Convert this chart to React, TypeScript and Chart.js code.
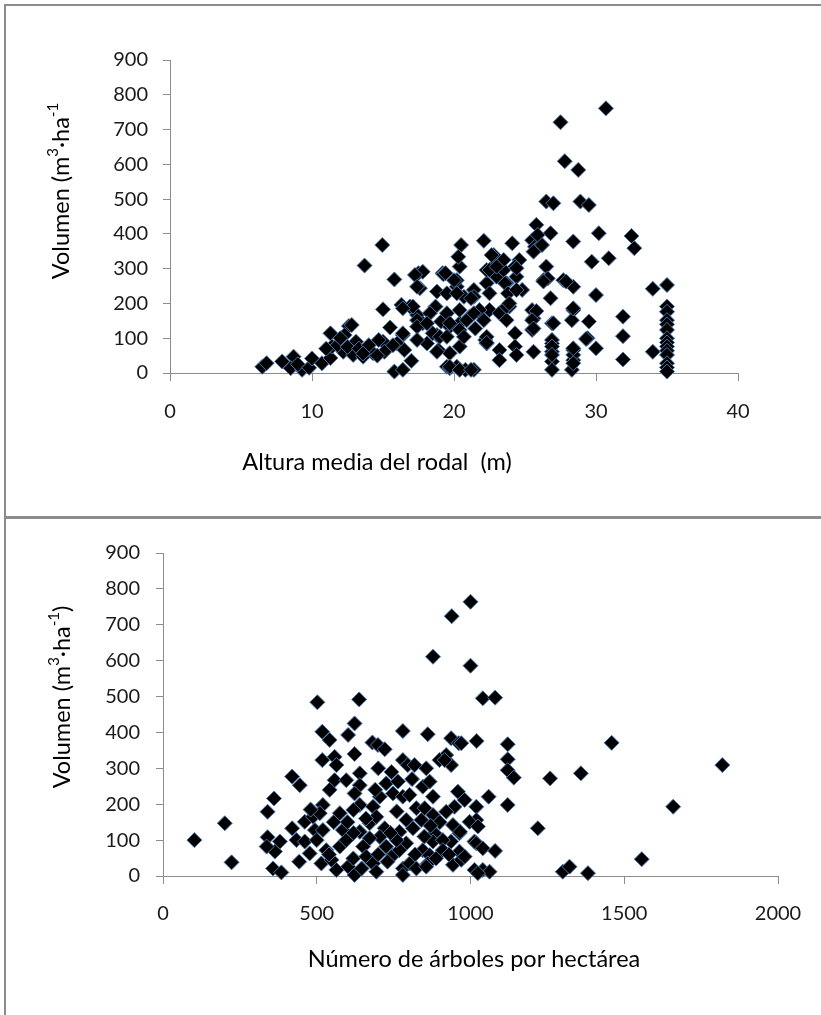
import React, { useEffect, useRef } from "react";
import { Chart, registerables } from "chart.js";

Chart.register(...registerables);

// ---- Data: top chart (Altura media del rodal vs Volumen) ----
const alturaX = [
  6.5, 6.8, 7.9, 8.7, 8.5, 9.3, 9.0, 9.8, 10.0, 10.7, 11.3, 11.3, 12.6, 12.3, 11.4, 12.2, 13.1, 12.9, 13.6, 14.3,
  15.0, 15.1, 13.7, 14.95, 15.8, 15.0, 15.5, 15.8, 16.4, 17.0, 16.3, 16.9, 17.4, 17.8, 17.5, 17.8, 17.6, 16.4, 16.0, 18.8,
  19.2, 18.7, 19.1, 18.8, 18.9, 19.5, 11.0, 11.8, 12.0, 12.5, 13.3, 14.0, 14.6, 12.8, 13.6, 14.7, 16.4, 15.7, 16.5, 17.25,
  17.4, 17.1, 16.4, 17.4, 18.3, 19.5, 20.2, 20.7, 21.4, 22.3, 23.0, 23.7, 24.4, 24.8, 22.3, 23.0, 23.5, 17.4, 18.1, 18.5,
  19.0, 19.7, 20.4, 21.1, 21.8, 22.5, 23.2, 23.9, 23.7, 20.4, 19.7, 18.8, 18.1, 17.4, 20.2, 19.7, 20.8, 21.4, 22.2, 22.3,
  23.2, 23.2, 24.3, 24.3, 25.6, 25.5, 25.6, 25.5, 26.9, 26.9, 26.9, 26.9, 26.9, 28.4, 28.3, 28.4, 28.4, 28.3, 29.5, 29.4,
  30.0, 19.25, 20.2, 20.4, 20.5, 20.3, 22.1, 22.8, 24.1, 23.5, 24.6, 24.3, 25.8, 26.8, 26.5, 27.0, 28.9, 29.5, 28.4, 30.2,
  29.7, 30.9, 30.0, 26.5, 26.3, 27.7, 28.4, 26.8, 25.5, 25.7, 26.1, 30.7, 27.5, 27.8, 28.75, 32.5, 32.7, 34.0, 35.0, 25.8,
  25.5, 25.6, 31.9, 35.0, 35.0, 35.0, 35.0, 35.0, 35.0, 35.0, 35.0, 35.0, 35.0, 35.0, 35.0, 35.0, 34.0, 31.9, 31.9, 29.3,
  28.4, 28.4, 26.9, 26.9, 26.9, 24.4, 22.3, 22.3, 19.7, 20.4, 21.2, 22.65, 24.4, 22.5, 23.0, 23.6, 23.8, 24.4, 22.5, 21.4,
  21.8, 23.7, 23.9, 20.0, 20.2, 19.4, 21.2, 19.5, 20.4, 19.7, 20.9, 21.4, 20.4, 19.5, 20.7, 22.1, 21.5, 26.6, 26.3, 27.9,
  27.0, 28.4, 28.4, 25.6, 25.9, 26.2
];
const alturaVol = [
  18, 28, 33, 47, 14, 9, 25, 15, 42, 28, 43, 114, 135, 109, 76, 61, 90, 52, 47, 57,
  90, 61, 309, 368, 269, 183, 131, 4, 9, 35, 196, 191, 167, 143, 287, 291, 244, 109, 85, 234,
  287, 191, 148, 109, 66, 18, 70, 80, 100, 75, 70, 80, 50, 138, 56, 95, 114, 80, 66, 282,
  248, 191, 186, 152, 172, 229, 248, 219, 239, 258, 277, 258, 277, 239, 296, 315, 296, 133, 143, 114,
  104, 133, 143, 162, 172, 181, 172, 191, 152, 76, 57, 61, 85, 95, 18, 14, 9, 9, 95, 85,
  66, 37, 114, 76, 61, 181, 157, 124, 143, 85, 61, 33, 9, 181, 152, 66, 37, 9, 148, 100,
  71, 284, 267, 306, 368, 334, 380, 339, 373, 325, 325, 306, 426, 402, 493, 488, 493, 483, 378, 402,
  320, 330, 224, 306, 267, 267, 248, 215, 382, 363, 368, 761, 721, 609, 584, 394, 359, 242, 253, 178,
  152, 128, 162, 191, 176, 152, 140, 124, 100, 88, 76, 64, 52, 28, 16, 4, 61, 106, 39, 98,
  52, 28, 95, 76, 52, 52, 104, 87, 18, 9, 9, 339, 301, 296, 306, 258, 229, 239, 229, 219,
  181, 191, 200, 267, 229, 287, 215, 172, 181, 143, 152, 172, 124, 104, 104, 152, 128, 272, 263, 263,
  143, 71, 186, 349, 397, 368
];

// ---- Data: bottom chart (Número de árboles por hectárea vs Volumen) ----
const arbolesX = [
  102, 201, 223, 340, 361, 340, 364, 337, 358, 385, 380, 420, 445, 420, 434, 461, 443, 477, 461, 488,
  494, 502, 518, 542, 518, 558, 564, 558, 542, 520, 510, 520, 515, 531, 564, 548, 575, 585, 575, 596,
  602, 619, 638, 623, 602, 623, 640, 640, 596, 623, 640, 619, 623, 640, 651, 661, 683, 646, 694, 681,
  699, 721, 672, 683, 705, 694, 721, 705, 726, 748, 672, 726, 743, 764, 748, 780, 780, 796, 818, 780,
  802, 824, 791, 769, 791, 813, 780, 780, 802, 824, 769, 861, 856, 845, 867, 878, 851, 878, 840, 878,
  883, 845, 867, 878, 861, 888, 856, 939, 1000, 1000, 937, 962, 921, 937, 899, 916, 959, 981, 948, 921,
  943, 964, 937, 964, 943, 970, 910, 910, 1019, 1019, 1013, 1013, 1040, 1080, 1020, 970, 1121, 1121, 1121, 1141,
  1259, 1359, 1459, 1819, 1659, 1219, 1557, 1300, 1322, 1382, 1121, 1059, 997, 1024, 1019, 1040, 1080, 981, 966, 1040,
  1062, 1024, 700, 730, 760, 820, 850, 900, 930, 600, 660, 700, 760, 810, 870, 480, 500, 540, 555, 620,
  690, 740
];
const arbolesVol = [
  100, 147, 38, 179, 216, 108, 68, 82, 21, 10, 96, 277, 253, 133, 100, 151, 40, 63, 96, 165,
  128, 484, 402, 379, 323, 332, 309, 267, 240, 198, 175, 128, 35, 72, 17, 45, 175, 128, 82, 100,
  26, 49, 492, 425, 393, 340, 286, 253, 267, 230, 198, 184, 3, 123, 82, 54, 35, 21, 12, 372,
  365, 353, 147, 193, 221, 165, 133, 109, 82, 58, 105, 258, 290, 263, 230, 404, 323, 309, 309, 221,
  226, 189, 156, 123, 91, 133, 21, 3, 35, 21, 72, 395, 300, 249, 263, 221, 189, 170, 156, 611,
  119, 72, 58, 96, 35, 49, 26, 724, 764, 586, 384, 370, 337, 309, 323, 323, 235, 212, 193, 179,
  142, 119, 96, 68, 31, 45, 100, 72, 193, 156, 96, 17, 495, 497, 376, 370, 367, 325, 295, 274,
  272, 286, 371, 309, 193, 133, 47, 12, 26, 8, 198, 221, 151, 138, 91, 77, 70, 54, 123, 17,
  12, 8, 60, 40, 100, 60, 110, 150, 60, 150, 160, 300, 180, 270, 140, 185, 100, 60, 150, 120,
  240, 120
];

const yTickValues = [0, 100, 200, 300, 400, 500, 600, 700, 800, 900];
const topXTicks = [0, 10, 20, 30, 40];
const bottomXTicks = [0, 500, 1000, 1500, 2000];

const topXTitle = "Altura media del rodal  (m)";
const bottomXTitle = "Número de árboles por hectárea";
type Seg = { t: string; sup?: boolean };
const topYTitle: Seg[] = [{ t: "Volumen (m" }, { t: "3", sup: true }, { t: "·ha" }, { t: "-1", sup: true }];
const bottomYTitle: Seg[] = [{ t: "Volumen (m" }, { t: "3", sup: true }, { t: "·ha" }, { t: "-1", sup: true }, { t: ")" }];

const FONT = "Lato, 'Open Sans', sans-serif";
const AXIS_COLOR = "#8c8c8c";
const LABEL_COLOR = "#1a1a1a";
const TITLE_SIZE = 23.5;

function drawRich(ctx: CanvasRenderingContext2D, segs: Seg[], cx: number, cy: number, rotate: boolean, size: number) {
  ctx.save();
  ctx.translate(cx, cy);
  if (rotate) ctx.rotate(-Math.PI / 2);
  const fN = `${size}px ${FONT}`;
  const fS = `${Math.round(size * 0.62)}px ${FONT}`;
  let total = 0;
  for (const s of segs) {
    ctx.font = s.sup ? fS : fN;
    total += ctx.measureText(s.t).width;
  }
  let x = -total / 2;
  ctx.textBaseline = "middle";
  ctx.textAlign = "left";
  ctx.fillStyle = "#000";
  for (const s of segs) {
    ctx.font = s.sup ? fS : fN;
    ctx.fillText(s.t, x, s.sup ? -size * 0.33 : 0);
    x += ctx.measureText(s.t).width;
  }
  ctx.restore();
}

type Cfg = {
  xs: number[];
  ys: number[];
  xMax: number;
  xTicks: number[];
  width: number;
  height: number;
  padTop: number;
  padRight: number;
  yWidth: number;
  xHeight: number;
  yLabelPad: number;
  xLabelPad: number;
  xTitle: string;
  xTitlePos: [number, number];
  yTitle: Seg[];
  yTitlePos: [number, number];
};

function ScatterPanel({ cfg, top }: { cfg: Cfg; top: number }) {
  const ref = useRef<HTMLCanvasElement | null>(null);
  useEffect(() => {
    if (!ref.current) return;
    const points = cfg.xs.map((x, i) => ({ x, y: cfg.ys[i] }));
    const titlePlugin = {
      id: "axisTitles",
      afterDraw(chart: any) {
        const ctx = chart.ctx as CanvasRenderingContext2D;
        ctx.save();
        ctx.font = `${TITLE_SIZE}px ${FONT}`;
        ctx.fillStyle = "#000";
        ctx.textAlign = "center";
        ctx.textBaseline = "middle";
        ctx.fillText(cfg.xTitle, cfg.xTitlePos[0], cfg.xTitlePos[1]);
        ctx.restore();
        drawRich(ctx, cfg.yTitle, cfg.yTitlePos[0], cfg.yTitlePos[1], true, TITLE_SIZE);
      },
    };
    const chart = new Chart(ref.current, {
      type: "scatter",
      data: {
        datasets: [
          {
            data: points,
            pointStyle: "rectRot",
            pointRadius: 7.5,
            pointHoverRadius: 7.5,
            backgroundColor: "#000000",
            borderColor: "#4a78b0",
            borderWidth: 1,
            clip: false as any,
          },
        ],
      },
      options: {
        animation: false,
        responsive: false,
        events: [],
        layout: { padding: { left: 0, top: cfg.padTop, right: cfg.padRight, bottom: 0 } },
        plugins: { legend: { display: false }, tooltip: { enabled: false } },
        scales: {
          x: {
            type: "linear",
            min: 0,
            max: cfg.xMax,
            afterBuildTicks: (s: any) => {
              s.ticks = cfg.xTicks.map((v) => ({ value: v }));
            },
            afterFit: (s: any) => {
              s.height = cfg.xHeight;
            },
            grid: { drawOnChartArea: false, drawTicks: true, tickLength: 8, color: AXIS_COLOR, lineWidth: 1 },
            border: { display: true, color: AXIS_COLOR, width: 1 },
            ticks: {
              padding: cfg.xLabelPad,
              color: LABEL_COLOR,
              font: { family: FONT, size: 20 },
              maxRotation: 0,
              callback: (v: any) => String(v),
            },
          },
          y: {
            type: "linear",
            min: 0,
            max: 900,
            afterBuildTicks: (s: any) => {
              s.ticks = yTickValues.map((v) => ({ value: v }));
            },
            afterFit: (s: any) => {
              s.width = cfg.yWidth;
            },
            grid: { drawOnChartArea: false, drawTicks: true, tickLength: 7, color: AXIS_COLOR, lineWidth: 1 },
            border: { display: true, color: AXIS_COLOR, width: 1 },
            ticks: {
              padding: cfg.yLabelPad,
              color: LABEL_COLOR,
              font: { family: FONT, size: 20 },
              callback: (v: any) => String(v),
            },
          },
        },
      },
      plugins: [titlePlugin],
    });
    return () => chart.destroy();
  }, [cfg]);
  return (
    <canvas
      ref={ref}
      width={cfg.width}
      height={cfg.height}
      style={{ position: "absolute", left: 0, top, width: cfg.width, height: cfg.height }}
    />
  );
}

const topCfg: Cfg = {
  xs: alturaX,
  ys: alturaVol,
  xMax: 40,
  xTicks: topXTicks,
  width: 821,
  height: 517,
  padTop: 60,
  padRight: 83,
  yWidth: 170,
  xHeight: 144,
  yLabelPad: 15,
  xLabelPad: 19,
  xTitle: topXTitle,
  xTitlePos: [377, 462],
  yTitle: topYTitle,
  yTitlePos: [61, 191],
};

const bottomCfg: Cfg = {
  xs: arbolesX,
  ys: arbolesVol,
  xMax: 2000,
  xTicks: bottomXTicks,
  width: 821,
  height: 498,
  padTop: 36,
  padRight: 43,
  yWidth: 163,
  xHeight: 139,
  yLabelPad: 16,
  xLabelPad: 18,
  xTitle: bottomXTitle,
  xTitlePos: [474, 442],
  yTitle: bottomYTitle,
  yTitlePos: [62, 180],
};

export default function App() {
  return (
    <div
      style={{
        position: "absolute",
        left: 0,
        top: 0,
        width: 821,
        height: 1015,
        overflow: "hidden",
        background: "#fff",
      }}
    >
      <div
        style={{
          position: "absolute",
          left: 4,
          top: 4,
          width: 900,
          height: 511,
          border: "2px solid #8c8c8c",
        }}
      />
      <div
        style={{
          position: "absolute",
          left: 4,
          top: 516,
          width: 900,
          height: 600,
          border: "2px solid #8c8c8c",
        }}
      />
      <ScatterPanel cfg={topCfg} top={0} />
      <ScatterPanel cfg={bottomCfg} top={517} />
    </div>
  );
}
